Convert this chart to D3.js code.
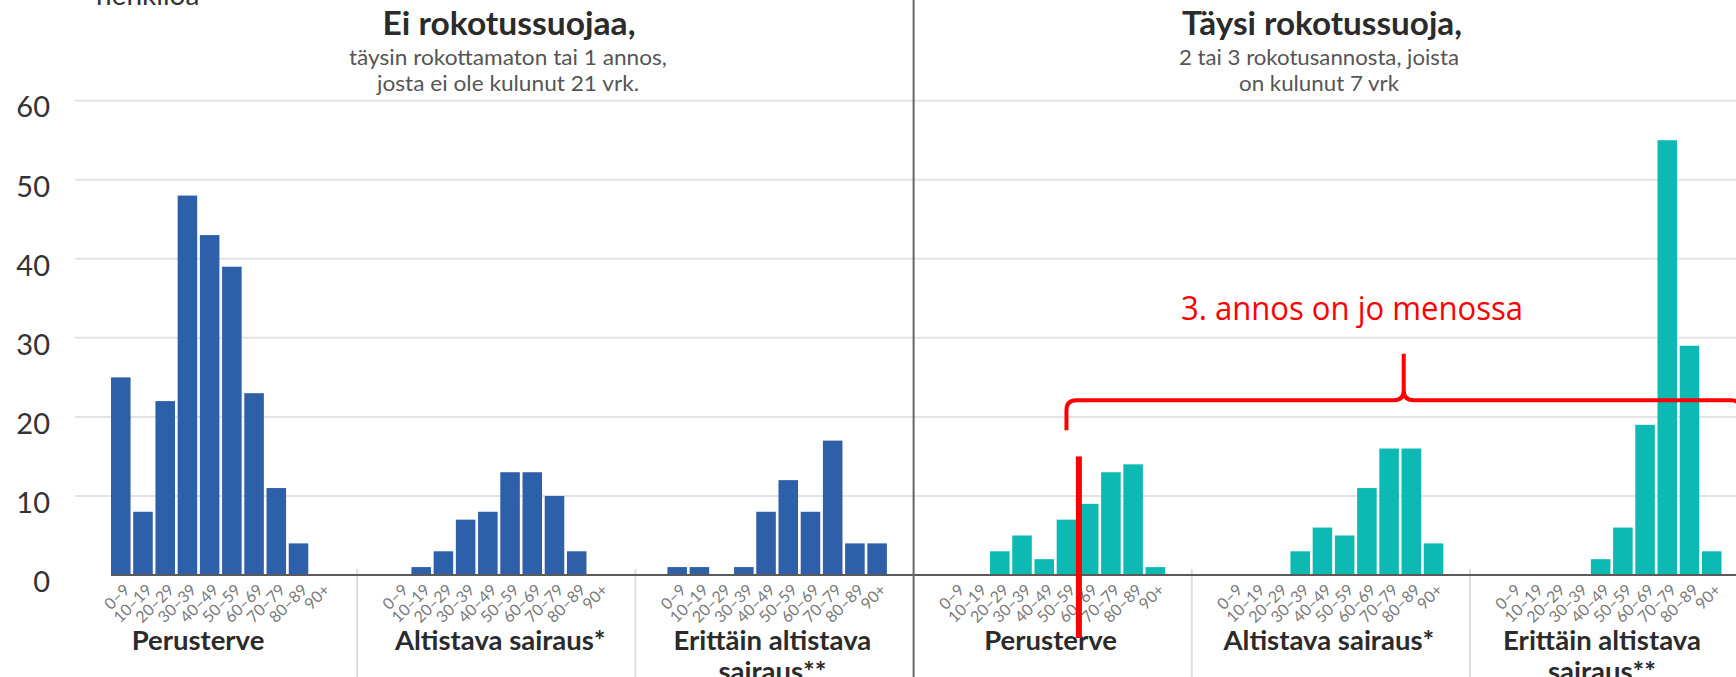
<!DOCTYPE html>
<html lang="fi">
<head>
<meta charset="UTF-8">
<title>Sairaalahoidossa olevat rokotussuojan mukaan</title>
<script src="https://cdn.jsdelivr.net/npm/d3@7"></script>
<style>
  body { margin: 0; background: #fff; }
  svg { display: block; font-family: Lato, "Noto Sans", sans-serif; }
</style>
</head>
<body>
<script>
// ikäryhmät ja sarjat (henkilöä)
var ages = ["0–9", "10–19", "20–29", "30–39", "40–49", "50–59", "60–69", "70–79", "80–89", "90+"];
var groupTitles = ["Ei rokotussuojaa,", "Täysi rokotussuoja,"];
var groupSubtitles = [
    ["täysin rokottamaton tai 1 annos,", "josta ei ole kulunut 21 vrk."],
    ["2 tai 3 rokotusannosta, joista", "on kulunut 7 vrk"]
];
var riskLabels = [["Perusterve"], ["Altistava sairaus*"], ["Erittäin altistava", "sairaus**"]];
var unvaxPerusterve = [25, 8, 22, 48, 43, 39, 23, 11, 4, 0];
var unvaxAltistava  = [0, 1, 3, 7, 8, 13, 13, 10, 3, 0];
var unvaxErittain   = [1, 1, 0, 1, 8, 12, 8, 17, 4, 4];
var vaxPerusterve   = [0, 0, 3, 5, 2, 7, 9, 13, 14, 1];
var vaxAltistava    = [0, 0, 0, 3, 6, 5, 11, 16, 16, 4];
var vaxErittain     = [0, 0, 0, 0, 2, 6, 19, 55, 29, 3];
var yTicks = [0, 10, 20, 30, 40, 50, 60];
var annotationText = "3. annos on jo menossa";

var width = 1736, height = 677;
var panelStart = 79, panelWidth = 278.2;
var colors = ["#2e5fa9", "#0cbab3"];

var panels = [unvaxPerusterve, unvaxAltistava, unvaxErittain, vaxPerusterve, vaxAltistava, vaxErittain]
    .map(function (vals, i) {
        return {index: i, group: Math.floor(i / 3), risk: i % 3, values: vals};
    });

var svg = d3.select("body").append("svg").attr("width", width).attr("height", height);

var y = d3.scaleLinear().domain([0, 60]).range([575, 100.7]);
var px = d3.scaleBand().domain(d3.range(6)).range([panelStart, panelStart + 6 * panelWidth]);
var x = d3.scaleBand().domain(ages).range([32, 251.5]).paddingInner(0.12);

// vaakasuorat apuviivat
svg.append("g").selectAll("line").data(yTicks.filter(function (d) { return d > 0; }))
    .enter().append("line")
    .attr("x1", 75).attr("x2", width)
    .attr("y1", function (d) { return y(d); }).attr("y2", function (d) { return y(d); })
    .attr("stroke", "#e3e3e3").attr("stroke-width", 2);

// y-akseli
var yAxis = svg.append("g").attr("transform", "translate(50,0)")
    .call(d3.axisLeft(y).tickValues(yTicks).tickSize(0).tickPadding(0));
yAxis.select(".domain").remove();
yAxis.selectAll("text").attr("font-size", 29).attr("fill", "#333").attr("dy", "0.56em")
    .attr("font-family", "Lato, sans-serif");

svg.append("text").attr("x", 96).attr("y", 5).attr("font-size", 28).attr("fill", "#333")
    .text("henkilöä");

// paneelien erottimet
svg.append("g").selectAll("line").data([1, 2, 4, 5]).enter().append("line")
    .attr("x1", function (d) { return px(d); }).attr("x2", function (d) { return px(d); })
    .attr("y1", 569).attr("y2", height)
    .attr("stroke", "#dcdcdc").attr("stroke-width", 2);

var panelG = svg.selectAll(".panel").data(panels).enter().append("g")
    .attr("class", "panel")
    .attr("transform", function (d) { return "translate(" + px(d.index) + ",0)"; });

panelG.selectAll("rect").data(function (d) {
        return d.values.map(function (v, j) { return {age: ages[j], v: v, group: d.group}; })
            .filter(function (e) { return e.v > 0; });
    })
    .enter().append("rect")
    .attr("x", function (d) { return x(d.age); })
    .attr("y", function (d) { return y(d.v); })
    .attr("width", x.bandwidth())
    .attr("height", function (d) { return y(0) - y(d.v); })
    .attr("fill", function (d) { return colors[d.group]; });

// ikäryhmien nimet vinossa
panelG.selectAll(".age").data(ages).enter().append("text")
    .attr("class", "age")
    .attr("text-anchor", "end")
    .attr("font-size", 16)
    .attr("fill", "#7a7a7a")
    .attr("transform", function (d) {
        return "translate(" + (x(d) + x.bandwidth() / 2 + 6) + ",587) rotate(-45)";
    })
    .attr("dy", "0.35em")
    .text(function (d) { return d; });

// riskiryhmät
var labelNudge = [-18, 6, 0, 0, 0, -5];
panelG.each(function (d) {
    var t = d3.select(this).append("text")
        .attr("text-anchor", "middle")
        .attr("font-size", 27.5).attr("font-weight", 700).attr("fill", "#2b2b2b");
    riskLabels[d.risk].forEach(function (line, k) {
        t.append("tspan").attr("x", 137 + labelNudge[d.index]).attr("y", 650 + k * 31).text(line);
    });
});

// x-akselin perusviiva
svg.append("line")
    .attr("x1", px(0) + x(ages[0])).attr("x2", width)
    .attr("y1", y(0)).attr("y2", y(0))
    .attr("stroke", "#5a5a5a").attr("stroke-width", 2);

// ryhmien välinen erotin
svg.append("line")
    .attr("x1", px(3)).attr("x2", px(3)).attr("y1", 0).attr("y2", height)
    .attr("stroke", "#666").attr("stroke-width", 2);

// otsikot
var titleX = [509, 1322], subX = [508, 1319];
var titleLen = [253, 280], subLen = [[318, 262], [280, 160]];
groupTitles.forEach(function (t, g) {
    svg.append("text").attr("x", titleX[g]).attr("y", 35)
        .attr("text-anchor", "middle").attr("font-size", 32).attr("font-weight", 700)
        .attr("fill", "#2b2b2b")
        .attr("textLength", titleLen[g]).attr("lengthAdjust", "spacingAndGlyphs")
        .text(t);
    groupSubtitles[g].forEach(function (s, k) {
        svg.append("text").attr("x", subX[g]).attr("y", 65 + k * 26)
            .attr("text-anchor", "middle").attr("font-size", 21).attr("fill", "#555")
            .attr("textLength", subLen[g][k]).attr("lengthAdjust", "spacingAndGlyphs")
            .text(s);
    });
});

// punainen huomautus
var red = "#ff0000";
var bx0 = px(3) + x("50–59") + x.bandwidth() / 2;
var bx1 = 1741;
var bmid = (bx0 + bx1) / 2;
var by = y(22.1), byEnd = y(18.3), byTop = y(28);
var brace = d3.path();
brace.moveTo(bx0, byEnd);
brace.lineTo(bx0, by + 10);
brace.quadraticCurveTo(bx0, by, bx0 + 10, by);
brace.lineTo(bmid - 10, by);
brace.quadraticCurveTo(bmid, by, bmid, by - 10);
brace.lineTo(bmid, byTop);
brace.moveTo(bmid, by - 10);
brace.quadraticCurveTo(bmid, by, bmid + 10, by);
brace.lineTo(bx1 - 10, by);
brace.quadraticCurveTo(bx1, by, bx1, by + 10);
brace.lineTo(bx1, byEnd);
svg.append("path").attr("d", brace.toString())
    .attr("fill", "none").attr("stroke", red).attr("stroke-width", 4);

svg.append("text").attr("x", 1352).attr("y", 320)
    .attr("text-anchor", "middle").attr("font-family", "'Open Sans', sans-serif")
    .attr("font-size", 32).attr("fill", red)
    .attr("textLength", 342).attr("lengthAdjust", "spacingAndGlyphs")
    .text(annotationText);

svg.append("rect")
    .attr("x", px(3) + x("60–69") - 3).attr("y", y(15))
    .attr("width", 6).attr("height", 638 - y(15))
    .attr("fill", red);
</script>
</body>
</html>
